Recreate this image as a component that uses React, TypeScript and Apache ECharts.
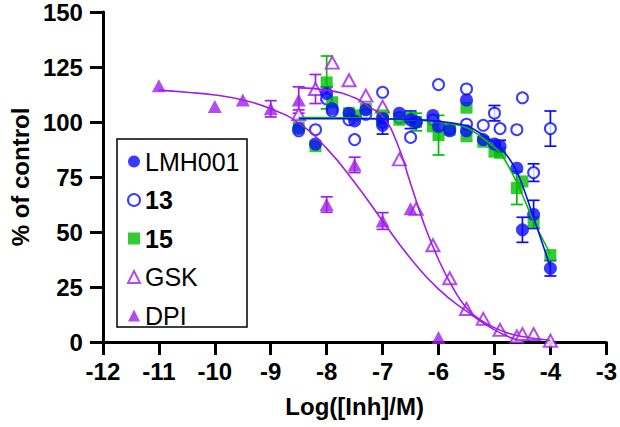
import React, { useEffect, useRef } from "react";
import * as echarts from "echarts";

// ---------- data ----------
const xTicks = { min: -12, max: -3, interval: 1 };
const yTicks = { min: 0, max: 150, interval: 25 };

const legendNames = ["LMH001", "13", "15", "GSK", "DPI"];

// measured points [log concentration, % of control]
const lmh001Points: number[][] = [
  [-8.5, 97], [-8.2, 90], [-7.9, 106], [-7.6, 104], [-7.3, 105.5], [-7.0, 101.5],
  [-6.7, 104], [-6.4, 100], [-6.1, 103], [-5.8, 96], [-5.5, 96], [-5.2, 92],
  [-4.9, 89], [-4.6, 79], [-4.3, 58], [-4.0, 33.5],
  [-8.0, 113], [-7.5, 100.5], [-7.0, 98.5], [-6.5, 101], [-6.0, 98], [-5.5, 110],
  [-5.0, 90], [-4.5, 51],
];
const c13Points: number[][] = [
  [-8.5, 96], [-8.2, 96.5], [-7.9, 105], [-7.6, 101], [-7.3, 103.5], [-7.0, 113.5],
  [-6.7, 102], [-6.4, 100], [-6.1, 101], [-5.8, 97], [-5.5, 99], [-5.2, 98.5],
  [-4.9, 97], [-4.6, 96.5], [-4.3, 77], [-4.0, 97],
  [-8.0, 110.5], [-7.5, 92], [-7.0, 100], [-6.5, 93], [-6.0, 117], [-5.5, 115],
  [-5.0, 104], [-4.5, 111],
];
const c15Points: number[][] = [
  [-8.5, 97.5], [-8.2, 89], [-7.9, 109], [-7.6, 104], [-7.3, 106], [-7.0, 103],
  [-6.7, 101], [-6.4, 100], [-6.1, 98], [-5.8, 96.5], [-5.5, 93.5], [-5.2, 91],
  [-4.9, 86], [-4.6, 70], [-4.3, 54.5], [-4.0, 39.5],
  [-8.0, 118], [-7.5, 103], [-7.0, 101], [-6.5, 102], [-6.0, 94], [-5.5, 106.5],
  [-5.0, 86.5], [-4.5, 73],
];
const gskPoints: number[][] = [
  [-8.5, 103.5], [-8.2, 115], [-7.9, 127], [-7.6, 119], [-7.3, 112], [-7.0, 107],
  [-6.7, 83], [-6.4, 60.5], [-6.1, 44], [-5.8, 29], [-5.5, 15], [-5.2, 10.5],
  [-4.9, 5.5], [-4.6, 2.5], [-4.5, 3.6], [-4.3, 3.6], [-4.0, 0.6],
];
const dpiPoints: number[][] = [
  [-11, 116.5], [-10, 107], [-9.5, 110], [-9, 106], [-8.5, 110], [-8, 62.5],
  [-7.5, 80.5], [-7, 55], [-6.5, 60.6], [-6, 2],
];

// error bars [x, mean, sd]
const lmh001Err: number[][] = [
  [-4.5, 51, 5.7], [-4.3, 58, 6.4], [-4.0, 33.5, 3.5], [-7.0, 98.5, 4],
  [-4.9, 89, 2.7], [-6.5, 101, 4], [-8.0, 113, 3],
];
const c13Err: number[][] = [
  [-4.0, 97, 8], [-4.3, 77, 4], [-5.0, 104, 3.5],
];
const c15Err: number[][] = [
  [-8.0, 118, 12], [-6.0, 94, 9], [-4.6, 70, 7.5], [-6.4, 100, 4],
];
const gskErr: number[][] = [
  [-8.2, 115, 6.6], [-8.5, 103.5, 2],
];
const dpiErr: number[][] = [
  [-9, 106, 3.7], [-8.5, 110, 6], [-8, 62.5, 3.5], [-7.5, 80.5, 3.5], [-7, 55, 3.8],
];

// fitted curves
const lmh001Fit: number[][] = [
  [-8.5, 101.5], [-8, 101.5], [-7.5, 101.5], [-7, 101.4], [-6.5, 101.2], [-6, 100.3],
  [-5.5, 98.3], [-5.2, 94], [-4.9, 88.5], [-4.6, 77.5], [-4.3, 56.5], [-4, 34],
];
const c15Fit: number[][] = [
  [-8.5, 102], [-8, 102], [-7.5, 101.8], [-7, 101.5], [-6.5, 101], [-6, 100],
  [-5.5, 97.5], [-5.2, 92.5], [-4.9, 86], [-4.6, 72.5], [-4.3, 55], [-4, 40],
];
const gskFit: number[][] = [
  [-8.5, 115.5], [-8, 114.5], [-7.5, 111], [-7.25, 107], [-7, 102.5], [-6.75, 91],
  [-6.5, 72], [-6.25, 53], [-6, 37.5], [-5.75, 25], [-5.5, 15.5], [-5.25, 10],
  [-5, 6.5], [-4.75, 4], [-4.5, 2.5], [-4.25, 1.5], [-4, 0.8],
];
const dpiFit: number[][] = [
  [-11, 114.5], [-10.5, 113.5], [-10, 112.3], [-9.5, 110], [-9, 106], [-8.5, 99.5],
  [-8, 88], [-7.5, 72.5], [-7, 55], [-6.5, 38], [-6, 24], [-5.5, 14], [-5, 5.5],
  [-4.6, 1],
];

const BLUE = "#0a0aff";
const GREEN = "#00bf00";
const PURPLE = "#a01ee8";
const FONT = "'Liberation Sans', Arial, Helvetica, sans-serif";

function errSeries(name: string, data: number[][], color: string) {
  return {
    type: "custom",
    name,
    silent: true,
    data: data.map((d) => [d[0], d[1] - d[2], d[1] + d[2]]),
    renderItem: (_params: any, api: any) => {
      const x = api.value(0);
      const lo = api.value(1);
      const hi = api.value(2);
      const top = api.coord([x, hi]);
      const bot = api.coord([x, lo]);
      const w = 6;
      const style = { stroke: color, lineWidth: 1.7, fill: "none" };
      return {
        type: "group",
        children: [
          { type: "line", shape: { x1: top[0], y1: top[1], x2: bot[0], y2: bot[1] }, style },
          { type: "line", shape: { x1: top[0] - w, y1: top[1], x2: top[0] + w, y2: top[1] }, style },
          { type: "line", shape: { x1: bot[0] - w, y1: bot[1], x2: bot[0] + w, y2: bot[1] }, style },
        ],
      };
    },
  };
}

function fitSeries(name: string, data: number[][], color: string, smooth: number | boolean) {
  return {
    type: "line",
    name,
    data,
    smooth,
    showSymbol: false,
    silent: true,
    lineStyle: { color, width: 1.6 },
  };
}

export default function App() {
  const ref = useRef<HTMLDivElement>(null);

  useEffect(() => {
    if (!ref.current) return;
    const chart = echarts.init(ref.current, null, { renderer: "svg" });
    const axisCommon = {
      type: "value",
      nameLocation: "middle",
      nameTextStyle: { fontFamily: FONT, fontSize: 24, fontWeight: "bold", color: "#000" },
      axisLine: { show: true, lineStyle: { color: "#000", width: 3 } },
      axisTick: { show: true, length: 13, lineStyle: { color: "#000", width: 3 } },
      axisLabel: { fontFamily: FONT, fontSize: 24, fontWeight: "bold", color: "#000", margin: 20 },
      splitLine: { show: false },
    };
    chart.setOption({
      animation: false,
      backgroundColor: "#fff",
      grid: { left: 95, right: 10, top: 11, bottom: 85 },
      xAxis: {
        ...axisCommon,
        ...xTicks,
        name: "Log([Inh]/M)",
        nameGap: 52,
        axisLabel: { ...axisCommon.axisLabel, margin: 17, showMaxLabel: true, showMinLabel: true },
      },
      yAxis: {
        ...axisCommon,
        ...yTicks,
        name: "% of control",
        nameGap: 70,
      },
      legend: {
        data: legendNames,
        orient: "vertical",
        left: 127,
        top: 149,
        padding: 0,
        itemWidth: 12,
        itemHeight: 12,
        itemGap: 13.5,
        itemTextGap: 11,
        selectedMode: false,
        textStyle: {
          fontFamily: FONT,
          fontSize: 25,
          color: "#000",
          lineHeight: 24,
          rich: {
            b: { fontFamily: FONT, fontSize: 25, fontWeight: "bold", color: "#000", lineHeight: 24 },
            n: { fontFamily: FONT, fontSize: 25, fontWeight: "normal", color: "#000", lineHeight: 24 },
          },
        },
        formatter: (name: string) => (name === "13" || name === "15" ? `{b|${name}}` : `{n|${name}}`),
      },
      graphic: [
        {
          type: "rect",
          shape: { x: 117, y: 139, width: 130, height: 188 },
          style: { fill: "none", stroke: "#000", lineWidth: 1.5 },
          silent: true,
        },
      ],
      series: [
        fitSeries("DPI fit", dpiFit, PURPLE, true),
        fitSeries("GSK fit", gskFit, PURPLE, true),
        fitSeries("15 fit", c15Fit, GREEN, 0.3),
        fitSeries("LMH001 fit", lmh001Fit, BLUE, 0.3),
        errSeries("GSK err", gskErr, PURPLE),
        errSeries("DPI err", dpiErr, PURPLE),
        errSeries("13 err", c13Err, BLUE),
        errSeries("15 err", c15Err, GREEN),
        errSeries("LMH001 err", lmh001Err, BLUE),
        {
          type: "scatter",
          name: "GSK",
          data: gskPoints,
          symbol: "emptyTriangle",
          symbolSize: [13, 12],
          itemStyle: { color: PURPLE },
          silent: true,
        },
        {
          type: "scatter",
          name: "DPI",
          data: dpiPoints,
          symbol: "triangle",
          symbolSize: [14, 13],
          itemStyle: { color: PURPLE },
          silent: true,
        },
        {
          type: "scatter",
          name: "13",
          data: c13Points,
          symbol: "emptyCircle",
          symbolSize: 11,
          itemStyle: { color: BLUE },
          silent: true,
        },
        {
          type: "scatter",
          name: "15",
          data: c15Points,
          symbol: "rect",
          symbolSize: 12,
          itemStyle: { color: GREEN },
          silent: true,
        },
        {
          type: "scatter",
          name: "LMH001",
          data: lmh001Points,
          symbol: "circle",
          symbolSize: 13,
          itemStyle: { color: BLUE },
          silent: true,
        },
      ],
    });
    return () => chart.dispose();
  }, []);

  return (
    <div
      ref={ref}
      style={{ position: "absolute", left: 0, top: 0, width: 620, height: 427 }}
    />
  );
}
